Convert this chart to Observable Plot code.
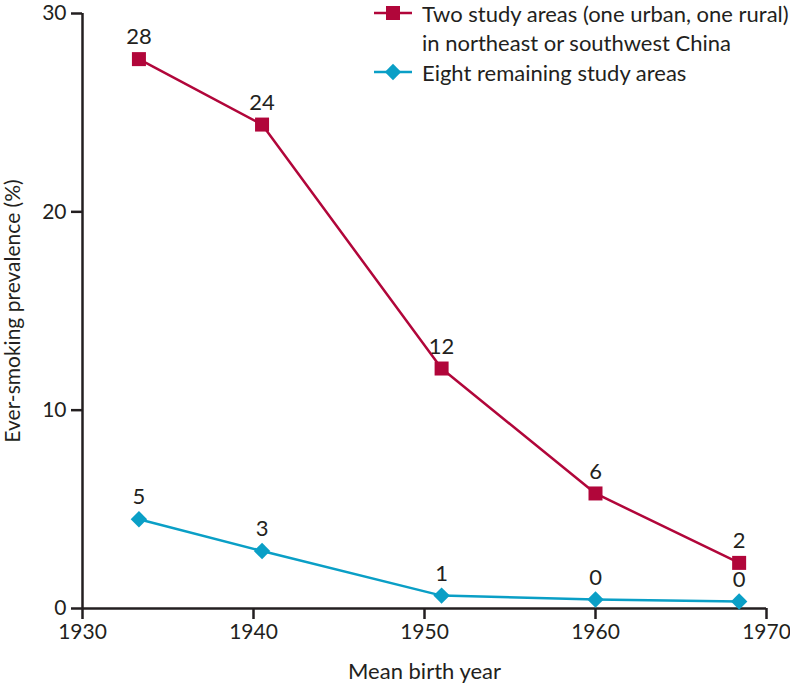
<!DOCTYPE html>
<html><head><meta charset="utf-8">
<script src="https://cdn.jsdelivr.net/npm/d3@7"></script>
<script src="https://cdn.jsdelivr.net/npm/@observablehq/plot@0.6"></script>
<style>
body{margin:0;background:#fff;}
#wrap{position:relative;width:790px;height:686px;font-family:Lato,"Noto Sans",sans-serif;color:#231f20;}
#legend{position:absolute;left:372px;top:-1.5px;font-size:22px;line-height:29.5px;white-space:nowrap;}
.item{display:flex;align-items:flex-start;}
.item svg{flex:none;margin-top:0px;margin-right:8px;}
g[aria-label="x-axis tick"], g[aria-label="y-axis tick"]{stroke-width:2.5px;}
g[aria-label="x-axis label"]{font-size:22px;}
g[aria-label="y-axis label"]{font-size:21px;}
</style></head><body><div id="wrap"></div>
<script>
const birthYear = [1933.3, 1940.5, 1951, 1960, 1968.4];
const northeastSouthwest = [27.7, 24.4, 12.1, 5.8, 2.3];
const remainingAreas = [4.5, 2.9, 0.65, 0.45, 0.35];
const labelsNortheastSouthwest = ["28", "24", "12", "6", "2"];
const labelsRemaining = ["5", "3", "1", "0", "0"];
const seriesNames = ["Two study areas (one urban, one rural) in northeast or southwest China", "Eight remaining study areas"];
const legendLines = [["Two study areas (one urban, one rural)", "in northeast or southwest China"], ["Eight remaining study areas"]];
const seriesColors = ["#b1063a", "#0a9fc6"];
const seriesSymbols = ["square", "diamond2"];
const xTicks = [1930, 1940, 1950, 1960, 1970];
const yTicks = [0, 10, 20, 30];

const rows = birthYear.flatMap((x, i) => [
  {x, y: northeastSouthwest[i], label: labelsNortheastSouthwest[i], s: seriesNames[0]},
  {x, y: remainingAreas[i], label: labelsRemaining[i], s: seriesNames[1]}
]);
const ink = "#231f20";
const fs = 21;

const chart = Plot.plot({
  width: 790, height: 686,
  marginLeft: 82, marginRight: 24, marginTop: 13, marginBottom: 78,
  style: {fontFamily: "Lato, 'Noto Sans', sans-serif", fontSize: fs + "px", color: ink, background: "#fff", overflow: "visible"},
  x: {domain: [1930, 1970]},
  y: {domain: [0, 30]},
  color: {domain: seriesNames, range: seriesColors},
  symbol: {domain: seriesNames, range: seriesSymbols},
  marks: [
    Plot.axisX({ticks: xTicks, tickSize: 11, tickPadding: 5, strokeWidth: 2.5, stroke: ink, fontSize: fs, tickFormat: d => String(d),
      label: "Mean birth year", labelAnchor: "center", labelOffset: 70, labelArrow: "none"}),
    Plot.axisY({ticks: yTicks, tickSize: 11, tickPadding: 5, strokeWidth: 2.5, stroke: ink, fontSize: fs,
      label: "Ever-smoking prevalence (%)", labelAnchor: "center", labelOffset: 77, labelArrow: "none"}),
    Plot.ruleX([1930], {stroke: ink, strokeWidth: 2.5}),
    Plot.ruleY([0], {stroke: ink, strokeWidth: 2.5}),
    Plot.line(rows, {x: "x", y: "y", z: "s", stroke: "s", strokeWidth: 2.5}),
    Plot.dot(rows.filter(d => d.s === seriesNames[0]), {x: "x", y: "y", fill: "s", symbol: "s", r: 7.9}),
    Plot.dot(rows.filter(d => d.s === seriesNames[1]), {x: "x", y: "y", fill: "s", symbol: "s", r: 7.4}),
    Plot.text(rows, {x: "x", y: "y", text: "label", dy: -22, fontSize: 22, fill: ink})
  ]
});
const wrap = document.getElementById("wrap");
wrap.appendChild(chart);

// legend
const legend = document.createElement("div");
legend.id = "legend";
seriesNames.forEach((name, i) => {
  const item = document.createElement("div");
  item.className = "item";
  const sym = d3.symbol(i === 0 ? d3.symbolSquare : d3.symbolDiamond2, i === 0 ? 196 : 170)();
  item.innerHTML = `<svg width="42" height="30"><line x1="2" x2="40" y1="14" y2="14" stroke="${seriesColors[i]}" stroke-width="2.5"/><path transform="translate(21,14)" d="${sym}" fill="${seriesColors[i]}"/></svg><div>${legendLines[i].join("<br>")}</div>`;
  legend.appendChild(item);
});
wrap.appendChild(legend);
</script>
</body></html>
